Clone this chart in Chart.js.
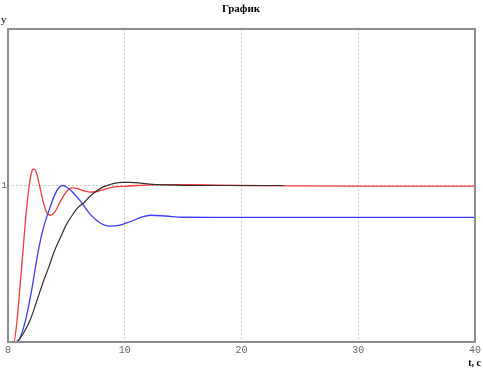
<!DOCTYPE html>
<html><head><meta charset="utf-8">
<script src="https://cdn.jsdelivr.net/npm/chart.js@4/dist/chart.umd.min.js"></script>
<style>html,body{margin:0;padding:0;background:#fff}#wrap{width:483px;height:372px}</style>
</head><body><div id="wrap"><canvas id="c" width="483" height="372"></canvas></div>
<script>
const titleText = "График";
const xLabel = "t, c";
const yLabel = "y";
const xTicks = [0, 10, 20, 30, 40];
const yTicks = [1];

const redT = [0,0.5,0.75,1.0,1.25,1.5,1.75,2.0,2.2,2.4,2.7,3.0,3.3,3.65,4.0,4.5,5.0,5.5,6.0,6.5,7.0,7.5,8,9,10,11,13,16,20,24,30,40];
const redY = [0,0,0.12,0.33,0.55,0.78,0.96,1.08,1.105,1.09,1.0,0.9,0.83,0.81,0.83,0.9,0.96,0.985,0.98,0.965,0.958,0.96,0.97,0.99,0.995,1.0,1.006,1.005,1.0,0.997,0.996,0.996];

const blueT = [0,0.8,1.2,1.6,2.0,2.6,3.0,3.6,4.0,4.4,4.7,5.0,5.5,6.2,7.0,7.8,8.7,9.5,10.5,11.5,12.2,13.5,15,18,24,30,40];
const blueY = [0,0,0.06,0.17,0.32,0.586,0.72,0.86,0.94,0.99,1.0,0.99,0.96,0.9,0.82,0.765,0.74,0.745,0.77,0.8,0.81,0.805,0.797,0.796,0.796,0.796,0.796];

const blackT = [0.7,1.0,1.5,1.9,2.5,3.0,3.5,4.0,4.5,5.0,5.5,6.0,6.5,7.0,7.5,8.0,8.5,9.0,9.8,10.5,11.5,12.7,14,16,20,23.6];
const blackY = [0,0.02,0.08,0.14,0.27,0.38,0.48,0.586,0.67,0.75,0.81,0.86,0.89,0.93,0.96,0.985,1.0,1.012,1.02,1.02,1.014,1.006,1.003,1.0,1.0,1.0];

function pts(t, y){ return t.map((v,i)=>({x:v,y:y[i]})); }

const framePlugin = {
  id:'frame',
  afterDraw(chart){
    const {ctx, chartArea:a} = chart;
    ctx.save();
    ctx.strokeStyle = '#8c8c8c';
    ctx.lineWidth = 2;
    ctx.strokeRect(a.left, a.top, a.right-a.left, a.bottom-a.top);
    ctx.fillStyle = '#000';
    ctx.font = 'bold 11px "Liberation Serif"';
    ctx.textAlign = 'center'; ctx.textBaseline = 'middle';
    ctx.fillText(titleText, 241, 9);
    ctx.font = '11px "Liberation Serif"';
    ctx.textAlign = 'left';
    ctx.fillText(yLabel, 1, 20);
    ctx.font = 'bold 10px "Liberation Serif"';
    ctx.textAlign = 'right';
    ctx.fillText(xLabel, 481, 363);
    ctx.restore();
  }
};

new Chart(document.getElementById('c'), {
  type:'line',
  plugins:[framePlugin],
  data:{datasets:[
    {data:pts(redT,redY), borderColor:'#f03c3c', borderWidth:1.3, pointRadius:0, tension:0.4, cubicInterpolationMode:'monotone', order:3},
    {data:pts(blueT,blueY), borderColor:'#3c3cf0', borderWidth:1.3, pointRadius:0, tension:0.4, cubicInterpolationMode:'monotone', order:2},
    {data:pts(blackT,blackY), borderColor:'#303030', borderWidth:1.2, pointRadius:0, tension:0.4, cubicInterpolationMode:'monotone', order:1}
  ]},
  options:{
    responsive:false, animation:false,
    layout:{padding:{top:29,right:8,left:0,bottom:0}},
    plugins:{legend:{display:false}, tooltip:{enabled:false}, title:{display:false}},
    scales:{
      x:{type:'linear', min:0, max:40,
        afterBuildTicks(s){ s.ticks = xTicks.map(v=>({value:v})); },
        afterFit(s){ s.height = 30; },
        ticks:{color:'#666', font:{family:'Liberation Mono', size:10}, padding:2, maxRotation:0},
        grid:{color:(c)=> (c.tick && (c.tick.value===0||c.tick.value===40)) ? 'rgba(0,0,0,0)' : '#cccccc', lineWidth:1, drawTicks:false},
        border:{display:false, dash:[2,2]}
      },
      y:{type:'linear', min:0, max:2,
        afterBuildTicks(s){ s.ticks = yTicks.map(v=>({value:v})); },
        afterFit(s){ s.width = 8; },
        ticks:{color:'#555', font:{family:'Liberation Mono', size:9}, padding:1},
        grid:{color:'#cccccc', lineWidth:1, drawTicks:false},
        border:{display:false, dash:[2,2]}
      }
    }
  }
});
</script></body></html>
